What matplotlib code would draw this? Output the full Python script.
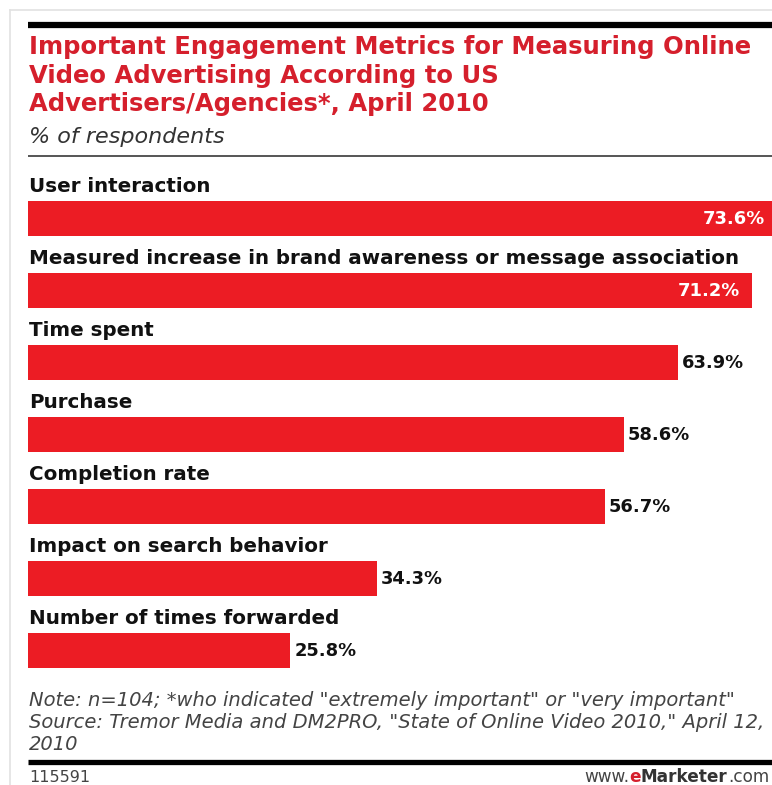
import matplotlib
matplotlib.use("Agg")
import matplotlib.pyplot as plt

categories = [
    "User interaction",
    "Measured increase in brand awareness or message association",
    "Time spent",
    "Purchase",
    "Completion rate",
    "Impact on search behavior",
    "Number of times forwarded",
]
values = [73.6, 71.2, 63.9, 58.6, 56.7, 34.3, 25.8]
value_labels = ["73.6%", "71.2%", "63.9%", "58.6%", "56.7%", "34.3%", "25.8%"]

title_lines = [
    "Important Engagement Metrics for Measuring Online",
    "Video Advertising According to US",
    "Advertisers/Agencies*, April 2010",
]
subtitle = "% of respondents"
notes = [
    'Note: n=104; *who indicated "extremely important" or "very important"',
    'Source: Tremor Media and DM2PRO, "State of Online Video 2010," April 12,',
    "2010",
]
chart_id = "115591"

W, H = 772, 785
BAR_RED = "#ec1c24"
TITLE_RED = "#d51f2c"

fig = plt.figure(figsize=(W / 100, H / 100), dpi=100)
fig.patch.set_facecolor("white")

# Pixel-space layer for frame, rules and text blocks
deco = fig.add_axes([0, 0, 1, 1], zorder=0)
deco.set_xlim(0, W)
deco.set_ylim(H, 0)
deco.axis("off")

deco.plot([10, 10], [10, H], color="#e2e2e2", lw=1.2)
deco.plot([10, W], [10, 10], color="#e2e2e2", lw=1.2)
deco.plot([28, W], [25, 25], color="black", lw=4.5, solid_capstyle="butt")
deco.plot([28, W], [156, 156], color="#555555", lw=1.4, solid_capstyle="butt")
deco.plot([28, W], [761.5, 761.5], color="black", lw=3.8, solid_capstyle="butt")

for k, line in enumerate(title_lines):
    deco.text(29, 54 + 28.5 * k, line, color=TITLE_RED, fontsize=17.5,
              fontweight="bold", family="DejaVu Sans", va="baseline", ha="left")
deco.text(29, 143, subtitle, color="#333333", fontsize=16, style="italic",
          family="DejaVu Sans", va="baseline", ha="left")

for k, line in enumerate(notes):
    deco.text(29, 706 + 22 * k, line, color="#444444", fontsize=14,
              style="italic", family="DejaVu Sans", va="baseline", ha="left")

deco.text(29, 782, chart_id, color="#444444", fontsize=11.5,
          family="DejaVu Sans", va="baseline", ha="left")

# www.eMarketer.com, built right to left from pieces
fs_url = 12.2
p4 = deco.text(769, 782, ".com", color="#444444", fontsize=fs_url,
               family="DejaVu Sans", va="baseline", ha="right")
p3 = deco.annotate("Marketer", xy=(0, 0), xycoords=p4, color="#333333",
                   fontsize=fs_url, fontweight="bold", family="DejaVu Sans",
                   va="bottom", ha="right")
p2 = deco.annotate("e", xy=(0, 0), xycoords=p3, color=TITLE_RED, fontsize=fs_url,
                   fontweight="bold", family="DejaVu Sans", va="bottom", ha="right")
deco.annotate("www.", xy=(0, 0), xycoords=p2, color="#444444", fontsize=fs_url,
              family="DejaVu Sans", va="bottom", ha="right")

# Bar chart axes: 10.17 px per percentage point, bars 72 px apart
left_px, px_per_unit = 28, 10.17
top_px, bottom_px = 182.5, 686.5
ax = fig.add_axes([left_px / W, 1 - bottom_px / H, (W - left_px) / W,
                   (bottom_px - top_px) / H], zorder=1)
ax.set_xlim(0, (W - left_px) / px_per_unit)
ax.set_ylim(len(categories) - 0.5, -0.5)
ax.axis("off")
ax.patch.set_alpha(0)

bar_h = 35 / 72
ypos = list(range(len(categories)))
ax.barh(ypos, values, height=bar_h, color=BAR_RED, edgecolor="none")

for i, (cat, v, lab) in enumerate(zip(categories, values, value_labels)):
    ax.annotate(cat, xy=(0, i - bar_h / 2), xytext=(1, 9),
                textcoords="offset pixels", ha="left", va="baseline",
                fontsize=14.3, fontweight="bold", color="#111111",
                family="DejaVu Sans", annotation_clip=False)
    if i < 2:
        ax.annotate(lab, xy=(v, i), xytext=(-12, 0), textcoords="offset pixels",
                    ha="right", va="center", fontsize=12.9, fontweight="bold",
                    color="white", family="DejaVu Sans", annotation_clip=False)
    else:
        ax.annotate(lab, xy=(v, i), xytext=(4, 0), textcoords="offset pixels",
                    ha="left", va="center", fontsize=12.9, fontweight="bold",
                    color="#111111", family="DejaVu Sans", annotation_clip=False)

fig.savefig("out.png", dpi=100, facecolor="white")
